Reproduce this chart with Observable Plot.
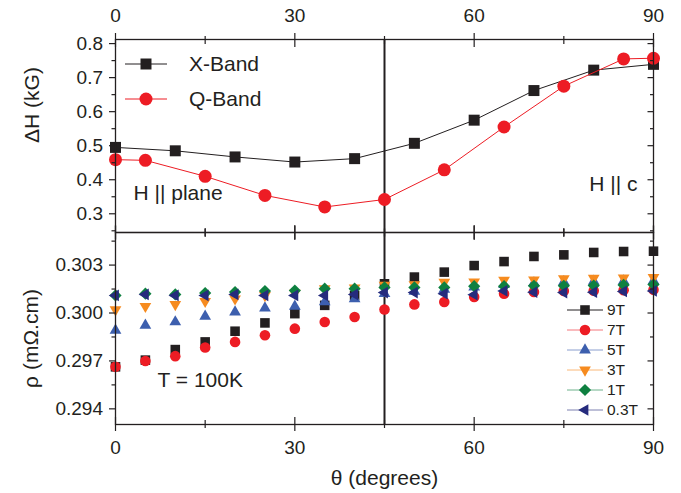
<!DOCTYPE html>
<html><head><meta charset="utf-8">
<script src="https://cdn.jsdelivr.net/npm/d3@7"></script>
<script src="https://cdn.jsdelivr.net/npm/@observablehq/plot@0.6"></script>
<style>
body{margin:0;background:#fff;}
#wrap{position:relative;width:681px;height:493px;font-family:"Liberation Sans",Arial,Helvetica,sans-serif;}
#wrap svg{position:absolute;left:0;overflow:visible;}
</style></head><body><div id="wrap"></div>
<script>
// ---------- data ----------
const xBandTheta = [0, 10, 20, 30, 40, 50, 60, 70, 80, 90];
const xBandDH    = [0.495, 0.485, 0.467, 0.452, 0.462, 0.507, 0.575, 0.662, 0.722, 0.739];
const qBandTheta = [0, 5, 15, 25, 35, 45, 55, 65, 75, 85, 90];
const qBandDH    = [0.459, 0.457, 0.410, 0.354, 0.320, 0.342, 0.429, 0.555, 0.675, 0.755, 0.757];

const rhoTheta = [0,5,10,15,20,25,30,35,40,45,50,55,60,65,70,75,80,85,90];
const rho9T  = [0.29663,0.29705,0.29771,0.29819,0.29886,0.29938,0.29996,0.30048,0.30110,0.30183,0.30225,0.30256,0.30297,0.30322,0.30354,0.30364,0.30379,0.30385,0.30387];
const rho7T  = [0.29663,0.29700,0.29730,0.29784,0.29819,0.29861,0.29902,0.29944,0.29975,0.30022,0.30054,0.30069,0.30100,0.30121,0.30132,0.30138,0.30140,0.30143,0.30145];
const rho5T  = [0.29892,0.29923,0.29944,0.29979,0.30006,0.30031,0.30042,0.30069,0.30089,0.30121,0.30135,0.30148,0.30162,0.30178,0.30188,0.30195,0.30198,0.30200,0.30202];
const rho3T  = [0.30021,0.30042,0.30054,0.30073,0.30089,0.30110,0.30125,0.30152,0.30158,0.30175,0.30178,0.30193,0.30195,0.30205,0.30208,0.30215,0.30218,0.30220,0.30223];
const rho1T  = [0.30110,0.30121,0.30116,0.30125,0.30131,0.30137,0.30141,0.30152,0.30152,0.30160,0.30160,0.30160,0.30168,0.30168,0.30170,0.30170,0.30172,0.30176,0.30178];
const rho03T = [0.30110,0.30116,0.30110,0.30110,0.30116,0.30110,0.30110,0.30110,0.30116,0.30128,0.30128,0.30121,0.30115,0.30138,0.30130,0.30128,0.30130,0.30135,0.30138];

const bandNames  = ["X-Band", "Q-Band"];
const fieldNames = ["9T", "7T", "5T", "3T", "1T", "0.3T"];
const annotationTop = ["H || plane", "H || c"];
const annotationBottom = ["T = 100K"];
const boundaryTheta = [45];

const xMajor = [0, 30, 60, 90];
const xMinor = [15, 45, 75];
const dhMajor = [0.3, 0.4, 0.5, 0.6, 0.7, 0.8];
const dhMinor = [0.25, 0.35, 0.45, 0.55, 0.65, 0.75];
const rhoMajor = [0.294, 0.297, 0.300, 0.303];
const rhoMinor = [0.2955, 0.2985, 0.3015, 0.3045];

// ---------- styling ----------
const ink = "#231f20";
const red = "#ed1c24";
const colors = [ink, red, "#3d5fae", "#f68b1f", "#0e8040", "#252b7d"];
const sq3 = Math.sqrt(3);
const triangleDown = {draw(c, size){const s=Math.sqrt(size)*0.6824,t=s/2,u=s*sq3/2;c.moveTo(0,s);c.lineTo(u,-t);c.lineTo(-u,-t);c.closePath();}};
const triangleLeft = {draw(c, size){const s=Math.sqrt(size)*0.6824,t=s/2,u=s*sq3/2;c.moveTo(-s,0);c.lineTo(t,-u);c.lineTo(t,u);c.closePath();}};
const symbols = [d3.symbolSquare, d3.symbolCircle, d3.symbolTriangle2, triangleDown, d3.symbolDiamond2, triangleLeft];
const radii = [5.4, 5.3, 5.6, 5.6, 5.5, 5.6];

const xRows = xBandTheta.map((t, i) => ({theta: t, dh: xBandDH[i]}));
const qRows = qBandTheta.map((t, i) => ({theta: t, dh: qBandDH[i]}));
const rhoSeries = [rho9T, rho7T, rho5T, rho3T, rho1T, rho03T];
const rhoRows = rhoSeries.map(arr => rhoTheta.map((t, i) => ({theta: t, rho: arr[i]})));

const baseStyle = {fontFamily: '"Liberation Sans", Arial, sans-serif', fontSize: "19px", color: ink, background: "transparent", overflow: "visible"};
const blank = () => "";
function xTicks(anchor){
  const s = anchor === "top" ? 1 : -1;
  return [
    Plot.axisX({anchor, ticks: xMajor, tickSize: 14, dy: 7*s, tickFormat: blank, label: null, stroke: ink, strokeWidth: 1.2}),
    Plot.axisX({anchor, ticks: xMinor, tickSize: 8, dy: 4*s, tickFormat: blank, label: null, stroke: ink, strokeWidth: 1.2})
  ];
}
function yTicks(major, minor, fmt){
  return [
    Plot.axisY({anchor: "left", ticks: major, tickSize: 6, tickPadding: 6.5, tickFormat: fmt, label: null, stroke: ink, strokeWidth: 1.2}),
    Plot.axisY({anchor: "left", ticks: minor, tickSize: 3.5, tickFormat: blank, label: null, stroke: ink, strokeWidth: 1.2}),
    Plot.axisY({anchor: "right", ticks: major, tickSize: 6.5, dx: -6.5, tickFormat: blank, label: null, stroke: ink, strokeWidth: 1.2}),
    Plot.axisY({anchor: "right", ticks: minor, tickSize: 4, dx: -4, tickFormat: blank, label: null, stroke: ink, strokeWidth: 1.2})
  ];
}

const topPlot = Plot.plot({
  width: 681, height: 232, marginLeft: 115, marginRight: 28, marginTop: 39, marginBottom: 0,
  x: {domain: [0, 90], label: null}, y: {domain: [0.245, 0.812], label: null},
  style: baseStyle,
  marks: [
    Plot.ruleX(boundaryTheta, {x: d => d, stroke: ink, strokeWidth: 2}),
    Plot.line(xRows, {x: "theta", y: "dh", stroke: ink, strokeWidth: 1}),
    Plot.dot(xRows, {x: "theta", y: "dh", symbol: "square", r: 6.2, fill: ink}),
    Plot.line(qRows, {x: "theta", y: "dh", stroke: red, strokeWidth: 1}),
    Plot.dot(qRows, {x: "theta", y: "dh", symbol: "circle", r: 6.5, fill: red}),
    Plot.frame({stroke: ink, strokeWidth: 1.3}),
    Plot.axisX({anchor: "top", ticks: xMajor, tickSize: 0, tickPadding: 18, label: null, tickFormat: d => String(d)}),
    ...xTicks("top"), ...xTicks("bottom"),
    ...yTicks(dhMajor, dhMinor, d3.format(".1f")),
    Plot.text(["ΔH (kG)"], {text: d => d, frameAnchor: "left", dx: -83, dy: -31, rotate: -90, fontSize: 21, fill: ink, textAnchor: "middle", lineAnchor: "middle"}),
    Plot.text([annotationTop[0]], {text: d => d, frameAnchor: "bottom-left", dx: 18, dy: -39, textAnchor: "start", lineAnchor: "middle", fontSize: 21, fill: ink}),
    Plot.text([annotationTop[1]], {text: d => d, frameAnchor: "bottom-right", dx: -16, dy: -48, textAnchor: "end", lineAnchor: "middle", fontSize: 21, fill: ink})
  ]
});

const bottomMarks = [Plot.ruleX(boundaryTheta, {x: d => d, stroke: ink, strokeWidth: 2})];
rhoRows.forEach((rows, i) => {
  bottomMarks.push(Plot.dot(rows, {x: "theta", y: "rho", symbol: symbols[i], r: radii[i], fill: colors[i]}));
});
const bottomPlot = Plot.plot({
  width: 681, height: 261, marginLeft: 115, marginRight: 28, marginTop: 0, marginBottom: 69,
  x: {domain: [0, 90], label: null}, y: {domain: [0.29302, 0.30504], label: null},
  style: baseStyle,
  marks: [
    ...bottomMarks,
    Plot.frame({stroke: ink, strokeWidth: 1.3}),
    Plot.axisX({anchor: "bottom", ticks: xMajor, tickSize: 0, tickPadding: 15.5, label: null, tickFormat: d => String(d)}),
    ...xTicks("top"), ...xTicks("bottom"),
    ...yTicks(rhoMajor, rhoMinor, d3.format(".3f")),
    Plot.text(["ρ (mΩ.cm)"], {text: d => d, frameAnchor: "left", dx: -84, dy: 10, rotate: -90, fontSize: 21, fill: ink, textAnchor: "middle", lineAnchor: "middle"}),
    Plot.text(["θ (degrees)"], {text: d => d, frameAnchor: "bottom", dy: 54, fontSize: 21, fill: ink, textAnchor: "middle", lineAnchor: "middle"}),
    Plot.text(annotationBottom, {text: d => d, frameAnchor: "bottom-left", dx: 42, dy: -44.5, textAnchor: "start", lineAnchor: "middle", fontSize: 21, fill: ink})
  ]
});

const wrap = document.getElementById("wrap");
topPlot.style.top = "0px";
bottomPlot.style.top = "232px";
wrap.appendChild(topPlot);
wrap.appendChild(bottomPlot);

// ---------- legends (overlay) ----------
function legend(rows, opts){
  const svg = d3.create("svg").attr("width", 681).attr("height", 493)
    .style("position", "absolute").style("left", "0px").style("top", "0px").style("pointer-events", "none");
  rows.forEach((r, i) => {
    const y = opts.y0 + i * opts.dy;
    svg.append("line").attr("x1", opts.x1).attr("x2", opts.x2).attr("y1", y).attr("y2", y)
      .attr("stroke", r.color).attr("stroke-opacity", r.lineOpacity).attr("stroke-width", 1);
    svg.append("path").attr("d", d3.symbol(r.symbol, Math.PI * r.r * r.r)())
      .attr("transform", `translate(${opts.xm},${y})`).attr("fill", r.color);
    svg.append("text").attr("x", opts.xt).attr("y", y).attr("dy", "0.35em")
      .attr("font-family", '"Liberation Sans", Arial, sans-serif').attr("font-size", opts.fontSize)
      .attr("fill", ink).text(r.label);
  });
  wrap.appendChild(svg.node());
}
legend([
  {label: bandNames[0], color: ink, symbol: d3.symbolSquare, r: 6.2, lineOpacity: 1},
  {label: bandNames[1], color: red, symbol: d3.symbolCircle, r: 6.5, lineOpacity: 1}
], {x1: 125, x2: 167, xm: 146, xt: 189, y0: 64, dy: 35, fontSize: 21});
legend(fieldNames.map((f, i) => ({label: f, color: colors[i], symbol: symbols[i], r: radii[i], lineOpacity: i === 0 ? 1 : 0.6})),
  {x1: 567, x2: 603, xm: 585, xt: 607, y0: 310, dy: 20, fontSize: 15.5});
</script></body></html>
